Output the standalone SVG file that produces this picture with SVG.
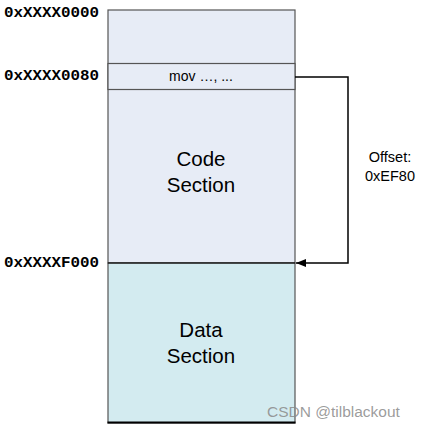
<svg xmlns="http://www.w3.org/2000/svg" width="421" height="428" viewBox="0 0 421 428">
<style>
.addr{font-family:"Liberation Mono","Courier New",monospace;font-weight:bold;font-size:15px;fill:#000}
.lbl{font-family:"Liberation Sans",Arial,sans-serif;fill:#000;text-anchor:middle}
.sec{font-size:20.5px}
.edge{fill:none;stroke:#000;stroke-width:1.5}
</style>
<defs>
<marker id="ah" viewBox="0 0 10 8" refX="10" refY="4" markerWidth="10" markerHeight="8" markerUnits="userSpaceOnUse" orient="auto">
<path d="M0,0 L10,4 L0,8 Z" fill="#000"/>
</marker>
</defs>
<rect width="421" height="428" fill="#fff"/>
<g id="code-section">
<rect x="108" y="10" width="187" height="253" fill="#E7ECF6" stroke="#555" stroke-width="1.2"/>
<text class="lbl sec" x="201" y="166">Code</text>
<text class="lbl sec" x="201" y="192">Section</text>
</g>
<g id="mov-row">
<rect x="108" y="63.5" width="187" height="26" fill="#E7ECF6" stroke="#555" stroke-width="1.2"/>
<text class="lbl" x="201" y="81" font-size="14">mov …, ...</text>
</g>
<g id="data-section">
<rect x="108" y="263" width="187" height="160" fill="#D3EBF0" stroke="#555" stroke-width="1.2"/>
<line x1="108" y1="263" x2="295" y2="263" stroke="#000" stroke-width="1.2"/>
<line x1="107.5" y1="422.5" x2="295.5" y2="422.5" stroke="#000" stroke-width="1.8"/>
<text class="lbl sec" x="201" y="337">Data</text>
<text class="lbl sec" x="201" y="363">Section</text>
</g>
<g id="addresses">
<text class="addr" x="4" y="17" textLength="95" lengthAdjust="spacingAndGlyphs">0xXXXX0000</text>
<text class="addr" x="4" y="80" textLength="95" lengthAdjust="spacingAndGlyphs">0xXXXX0080</text>
<text class="addr" x="4" y="267" textLength="95" lengthAdjust="spacingAndGlyphs">0xXXXXF000</text>
</g>
<g id="connectors">
<path class="edge" d="M295,77 H348 V263 H296" marker-end="url(#ah)"/>
</g>
<g id="offset-label">
<text class="lbl" x="390" y="162" font-size="14.5">Offset:</text>
<text class="lbl" x="390" y="181" font-size="14.5">0xEF80</text>
</g>
<text x="267" y="417" font-family="Liberation Sans,Arial,sans-serif" font-size="15.5" fill="#8a8a8a" fill-opacity="0.85">CSDN @tilblackout</text>
</svg>
